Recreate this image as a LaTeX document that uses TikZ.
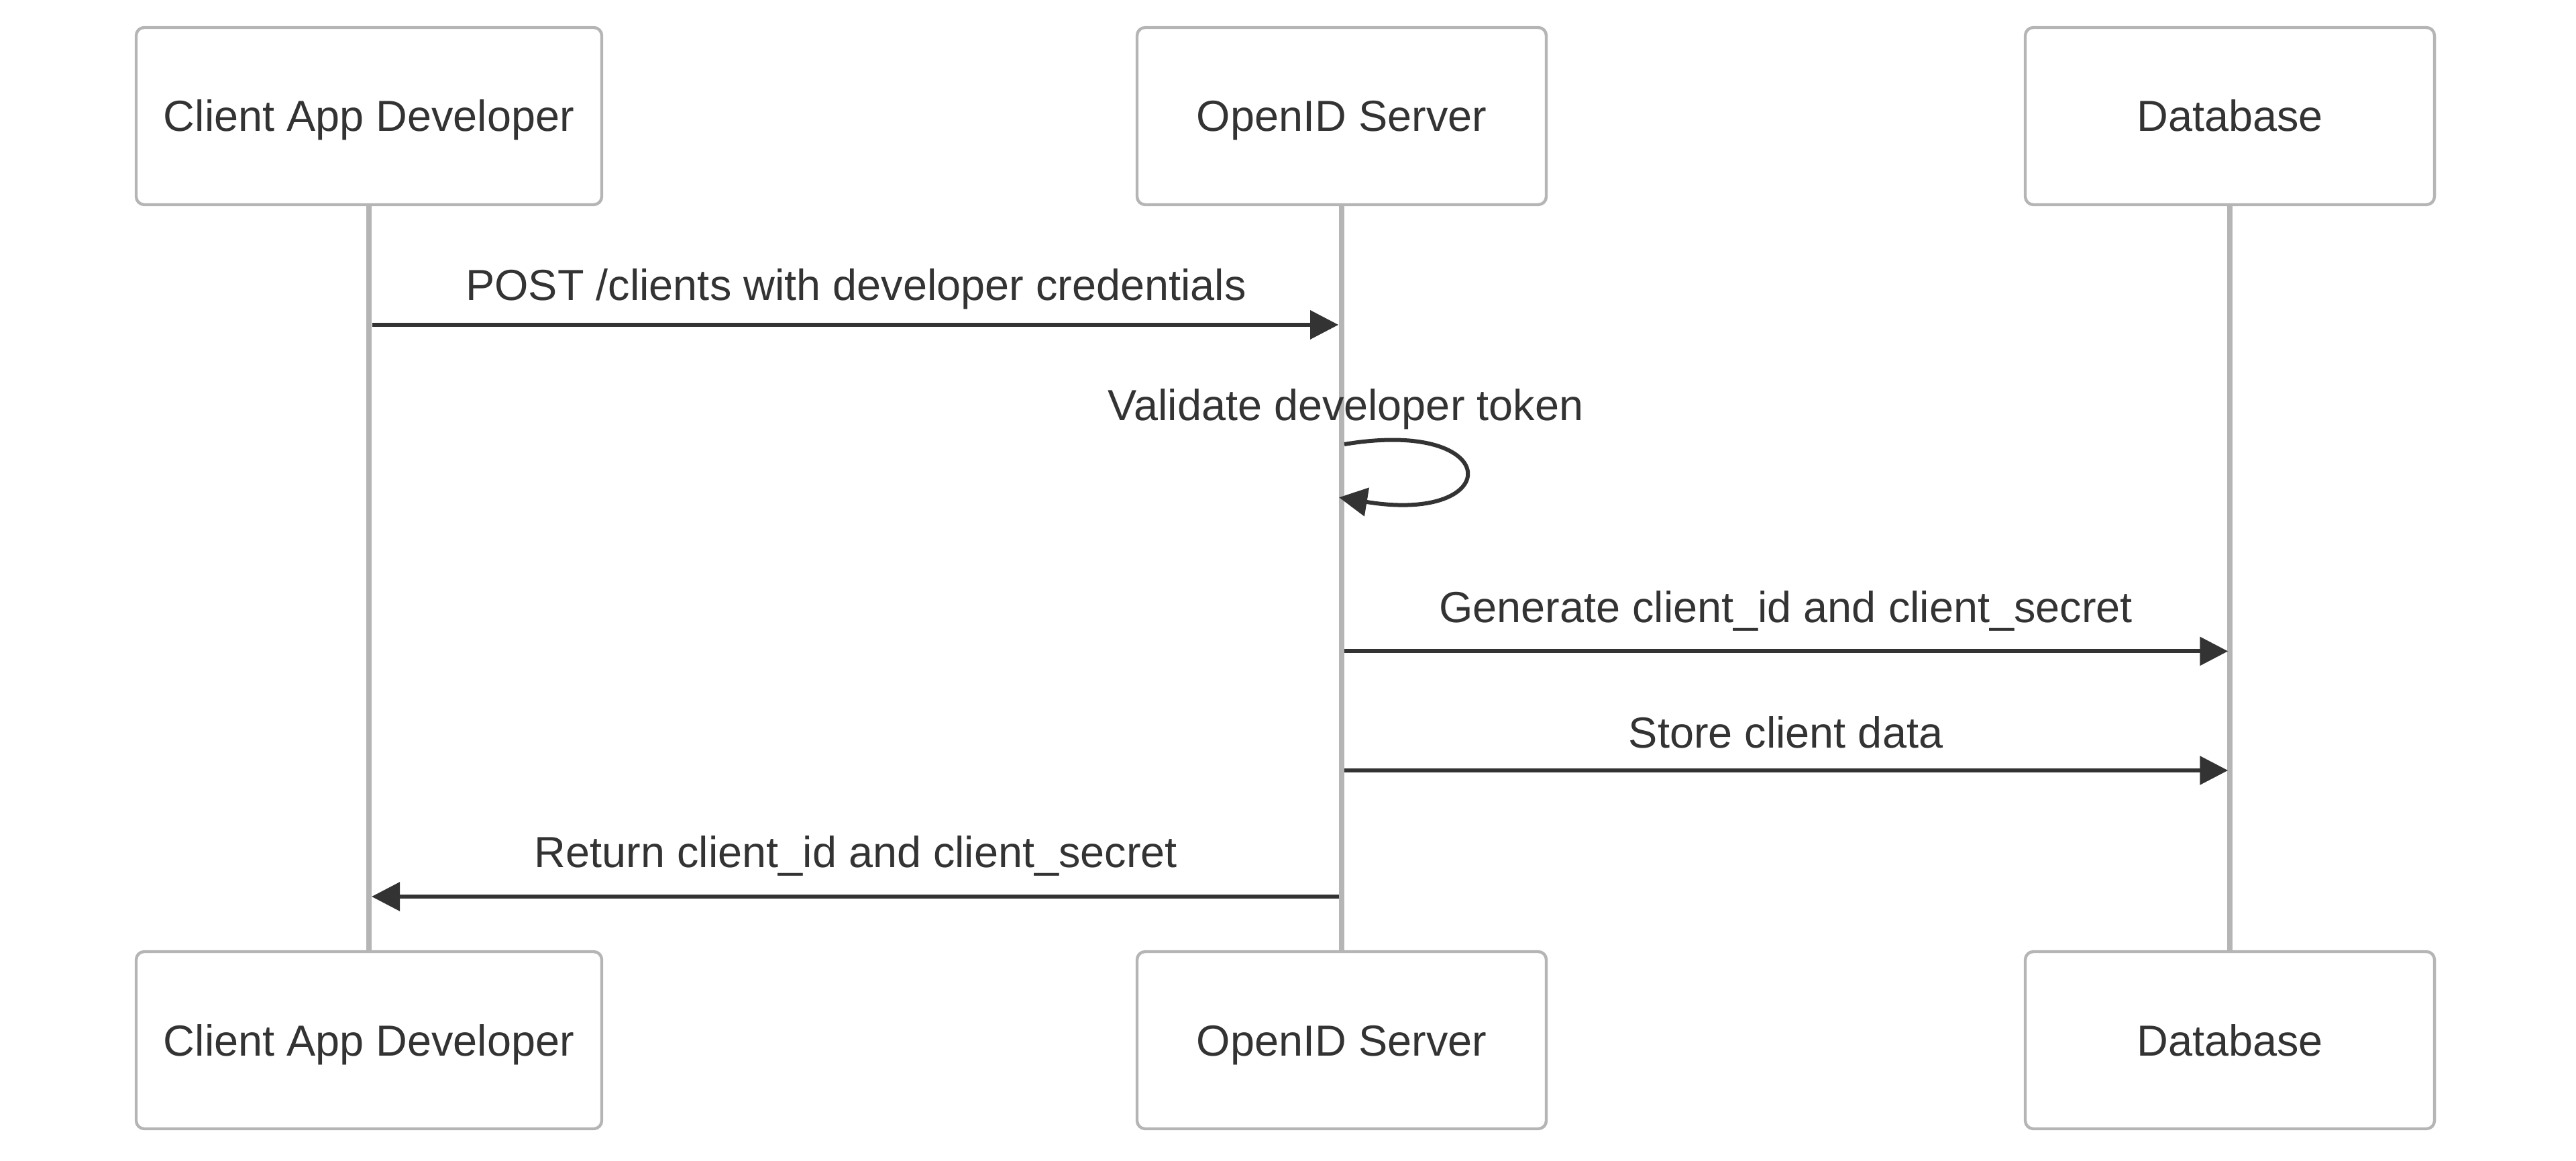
\documentclass[tikz,border=0pt]{standalone}
\usepackage{fontspec}
\setmainfont{Liberation Sans}
\usetikzlibrary{arrows.meta}
\definecolor{txt}{HTML}{333333}
\definecolor{boxgray}{HTML}{B5B5B5}
\begin{document}
\begin{tikzpicture}[x=1pt,y=-1pt,
  actor/.style={draw=boxgray, line width=1.1pt, fill=white, rounded corners=3pt,
    minimum height=66pt, inner sep=0pt, text=txt, text height=12pt, text depth=0.5pt,
    font=\fontsize{16.2}{19.4}\selectfont},
  lifeline/.style={draw=boxgray, line width=1.8pt},
  msg/.style={draw=txt, line width=1.5pt, -{Triangle[length=10.5pt,width=10.5pt]}},
  msglabel/.style={anchor=base, inner sep=0pt, text=txt, font=\fontsize{16.2}{19.4}\selectfont}]
\useasboundingbox (0,0) rectangle (960,432.5);
% actors top
\node[actor, minimum width=173.5pt] (a1) at (137.5,43.25) {Client App Developer};
\node[actor, minimum width=152.5pt] (a2) at (500,43.25) {OpenID Server};
\node[actor, minimum width=152.5pt] (a3) at (831,43.25) {Database};
% actors bottom
\node[actor, minimum width=173.5pt] (b1) at (137.5,387.5) {Client App Developer};
\node[actor, minimum width=152.5pt] (b2) at (500,387.5) {OpenID Server};
\node[actor, minimum width=152.5pt] (b3) at (831,387.5) {Database};
% lifelines
\draw[lifeline] (a1.south) -- (b1.north);
\draw[lifeline] (a2.south) -- (b2.north);
\draw[lifeline] (a3.south) -- (b3.north);
% message endpoints
\coordinate (m1s) at (138.8,121);
\coordinate (m1e) at (498.8,121);
\coordinate (lps) at (501,165.5);
\coordinate (lpe) at (499,185.3);
\coordinate (m3s) at (501,242.6);
\coordinate (m3e) at (830.3,242.6);
\coordinate (m4s) at (501,287);
\coordinate (m4e) at (830.3,287);
\coordinate (m5s) at (499,334);
\coordinate (m5e) at (138.5,334);
% messages
\draw[msg] (m1s) -- (m1e);
\node[msglabel] (t1) at (319,112) {POST /clients with developer credentials};
\draw[msg] (lps) .. controls (561,155.5) and (561,195.5) .. (lpe);
\node[msglabel] (t2) at (501.5,156.75) {Validate developer token};
\draw[msg] (m3s) -- (m3e);
\node[msglabel] (t3) at (665.5,231.8) {Generate client\_id and client\_secret};
\draw[msg] (m4s) -- (m4e);
\node[msglabel] (t4) at (665.5,278.5) {Store client data};
\draw[msg] (m5s) -- (m5e);
\node[msglabel] (t5) at (319,323) {Return client\_id and client\_secret};
\end{tikzpicture}
\end{document}
